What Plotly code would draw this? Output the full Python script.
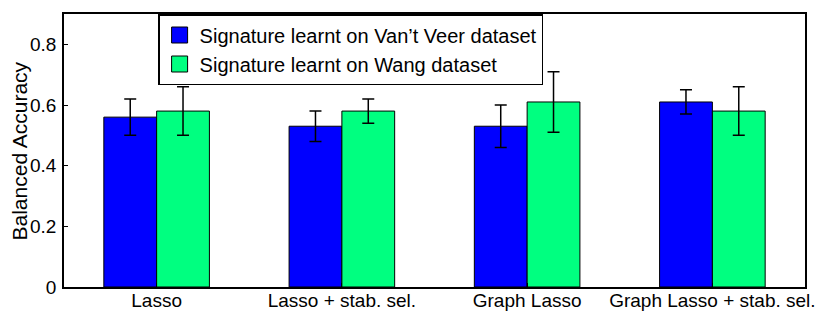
import plotly.graph_objects as go

categories = ["Lasso", "Lasso + stab. sel.", "Graph Lasso", "Graph Lasso + stab. sel."]
vantveer_values = [0.56, 0.53, 0.53, 0.61]
vantveer_errors = [0.06, 0.05, 0.07, 0.04]
wang_values = [0.58, 0.58, 0.61, 0.58]
wang_errors = [0.08, 0.04, 0.10, 0.08]
series_names = ["Signature learnt on Van\u2019t Veer dataset", "Signature learnt on Wang dataset"]
y_ticks = [0, 0.2, 0.4, 0.6, 0.8]
y_title = "Balanced Accuracy"

FONT = "Liberation Sans, Arial, sans-serif"
COLORS = ["#0000FF", "#00FF80"]

fig = go.Figure()
for name, vals, errs, color in zip(series_names, [vantveer_values, wang_values],
                                   [vantveer_errors, wang_errors], COLORS):
    fig.add_trace(go.Bar(
        x=categories, y=vals, name=name, showlegend=False,
        marker=dict(color=color, line=dict(color="black", width=1)),
        error_y=dict(type="data", array=errs, color="black", thickness=1.5, width=6),
    ))
# legend entries with larger square swatches
for name, color in zip(series_names, COLORS):
    fig.add_trace(go.Scatter(
        x=[None], y=[None], mode="markers", name=name,
        marker=dict(symbol="square", size=20, color=color, line=dict(color="black", width=1)),
    ))

fig.update_layout(
    width=820, height=312,
    margin=dict(l=64, r=15, t=14, b=25, autoexpand=False),
    paper_bgcolor="white", plot_bgcolor="white",
    barmode="group", bargap=0.43, bargroupgap=0,
    font=dict(family=FONT, size=19, color="black"),
    showlegend=True,
    legend=dict(
        x=0.127, y=1, xanchor="left", yanchor="top",
        bgcolor="white", bordercolor="black", borderwidth=1.5,
        font=dict(size=20, family=FONT), itemsizing="trace", itemwidth=30,
    ),
    annotations=[dict(
        text=y_title, xref="paper", yref="paper", x=-0.0594, y=0.5,
        xanchor="center", yanchor="middle", textangle=-90, showarrow=False,
        font=dict(size=21, family=FONT, color="black"),
    )],
)
fig.update_xaxes(
    range=[-0.5, 3.5], showline=True, linecolor="black", linewidth=1.5, mirror=True,
    ticks="inside", ticklen=4, tickcolor="black", showgrid=False,
    tickfont=dict(size=19), ticklabelstandoff=-5, automargin=False,
)
fig.update_yaxes(
    range=[0, 0.9], tickvals=y_ticks, showline=True, linecolor="black", linewidth=1.5, mirror=True,
    ticks="inside", ticklen=4, tickcolor="black", showgrid=False, zeroline=False,
    tickfont=dict(size=19), ticklabelstandoff=2, automargin=False,
)

fig.write_html("out.html", config={"displayModeBar": False},
               post_script="document.body.style.margin='0';")
